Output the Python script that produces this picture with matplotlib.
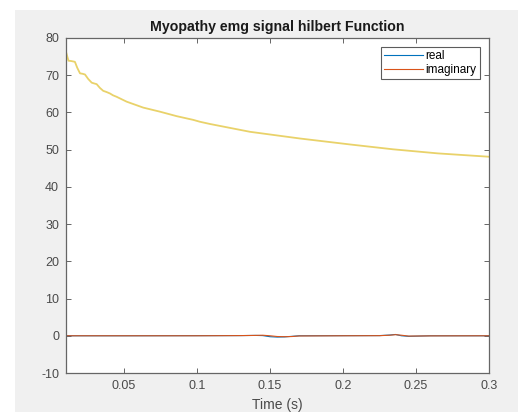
import matplotlib
matplotlib.use('Agg')
from matplotlib import pyplot as plt
import numpy as np

plt.rcParams['font.family'] = ['Liberation Sans', 'DejaVu Sans']
plt.rcParams['axes.unicode_minus'] = False

# envelope
t_env = [0.0103, 0.0112, 0.0120, 0.0140, 0.0164, 0.0180, 0.0199, 0.0215, 0.0233,
         0.0255, 0.0279, 0.0295, 0.0313, 0.0335, 0.0358, 0.0380, 0.0404, 0.0425,
         0.0450, 0.0518, 0.0632, 0.0747, 0.0861, 0.0975, 0.1020, 0.1089, 0.1363,
         0.1705, 0.2048, 0.2342, 0.2650, 0.3000]
env = [76.3, 75.0, 73.9, 73.8, 73.6, 72.0, 70.5, 70.4, 70.2,
       69.0, 68.0, 67.8, 67.6, 66.6, 65.8, 65.5, 65.1, 64.6,
       64.2, 62.9, 61.3, 60.2, 59.0, 58.0, 57.5, 56.9, 54.8,
       53.0, 51.4, 50.1, 49.0, 48.1]

# real and imaginary parts near zero
t_sig = [0.0103, 0.05, 0.10, 0.13, 0.14, 0.145, 0.15, 0.155, 0.16, 0.165, 0.17,
         0.20, 0.225, 0.232, 0.236, 0.240, 0.245, 0.26, 0.30]
real = [0.0, 0.0, 0.03, 0.05, 0.1, 0.05, -0.25, -0.35, -0.3, -0.15, 0.0,
        0.03, 0.05, 0.2, 0.35, 0.0, -0.15, 0.0, 0.0]
imag = [0.0, 0.0, 0.0, 0.05, 0.1, 0.15, 0.0, -0.2, -0.25, -0.2, -0.05,
        0.0, 0.03, 0.15, 0.3, 0.15, -0.08, -0.03, 0.0]

xticks = [0.05, 0.1, 0.15, 0.2, 0.25, 0.3]
xticklabels = ['0.05', '0.1', '0.15', '0.2', '0.25', '0.3']
yticks = [-10, 0, 10, 20, 30, 40, 50, 60, 70, 80]

fig = plt.figure(figsize=(5.18, 4.12), dpi=100)
fig.patch.set_facecolor('white')

# grey window background (white strip on left/top as in the screenshot)
bg = fig.add_axes([15/518, 0, 1 - 15/518, (412-10)/412], zorder=-1)
bg.set_facecolor('#f0f0f0')
bg.set_xticks([])
bg.set_yticks([])
for s in bg.spines.values():
    s.set_visible(False)

ax = fig.add_axes([66/518, 39/412, 423/518, 335/412], zorder=1)
ax.plot(t_sig, real, color='#0072BD', lw=0.8, label='real')
ax.plot(t_sig, imag, color='#D95319', lw=0.8, label='imaginary')
ax.plot(t_env, env, color='#E9D26A', lw=1.3)

ax.set_xlim(0.0103, 0.3)
ax.set_ylim(-10, 80)
ax.set_xticks(xticks)
ax.set_xticklabels(xticklabels)
ax.set_yticks(yticks)

edge = '#666666'
for s in ax.spines.values():
    s.set_color(edge)
    s.set_linewidth(0.9)
ax.tick_params(direction='in', length=3.5, width=0.7, color=edge,
               labelcolor='#4a4a4a', labelsize=9, top=True, right=True, pad=5)

ax.set_title('Myopathy emg signal hilbert Function', fontsize=10.2, fontweight='bold',
             color='#1a1a1a', pad=5)
ax.set_xlabel('Time (s)', fontsize=10, color='#4a4a4a', labelpad=4)

leg = ax.legend(loc='upper right', fontsize=8.5, frameon=True, fancybox=False,
                handlelength=3.3, handletextpad=0.2, borderpad=0.25, labelspacing=0.15,
                borderaxespad=0.8)
leg.get_frame().set_edgecolor('#333333')
leg.get_frame().set_linewidth(0.8)

fig.savefig('out.png', dpi=100, facecolor=fig.get_facecolor())
